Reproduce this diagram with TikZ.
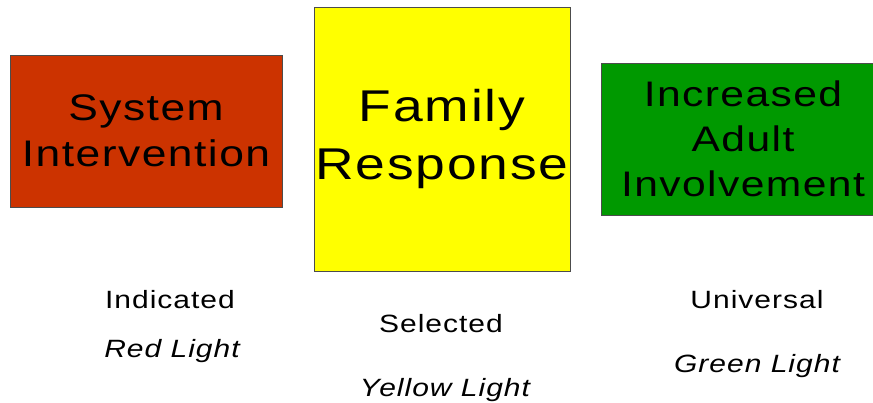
\documentclass[tikz,border=0pt]{standalone}
\usepackage{fontspec}
\setmainfont{Liberation Sans}
\newfontfamily\trk[FakeStretch=1.2, LetterSpace=4]{Liberation Sans}
\definecolor{redbox}{HTML}{CC3300}
\definecolor{yelbox}{HTML}{FFFF00}
\definecolor{grnbox}{HTML}{009900}
\begin{document}
\begin{tikzpicture}[x=1pt,y=-1pt,
  lightbox/.style={draw=black!70, line width=0.8pt, inner sep=0pt, align=center, text=black},
  lbl/.style={anchor=base, inner sep=0pt, font=\trk\fontsize{25}{30}\selectfont},
  ilbl/.style={lbl, font=\trk\itshape\fontsize{25}{30}\selectfont}]
\useasboundingbox (0,0) rectangle (873,403);
\node[lightbox, fill=redbox, minimum width=272pt, minimum height=152pt,
      font=\trk\fontsize{37}{46}\selectfont] (sys) at (146,131) {System\\Intervention};
\node[lightbox, fill=yelbox, minimum width=256pt, minimum height=264pt,
      font=\trk\fontsize{44.5}{58}\selectfont] (fam) at (442,139) {Family\\Response};
\node[lightbox, fill=grnbox, minimum width=284pt, minimum height=152pt,
      font=\trk\fontsize{35.5}{45}\selectfont] (adl) at (743,139) {Increased\\Adult\\Involvement};
\node[lbl] (ind) at (170,309) {Indicated};
\node[ilbl] (red) at (172,357) {Red Light};
\node[lbl] (sel) at (441,333) {Selected};
\node[ilbl] (yel) at (445,396) {Yellow Light};
\node[lbl] (uni) at (757,309) {Universal};
\node[ilbl] (grn) at (757,373) {Green Light};
\end{tikzpicture}
\end{document}
